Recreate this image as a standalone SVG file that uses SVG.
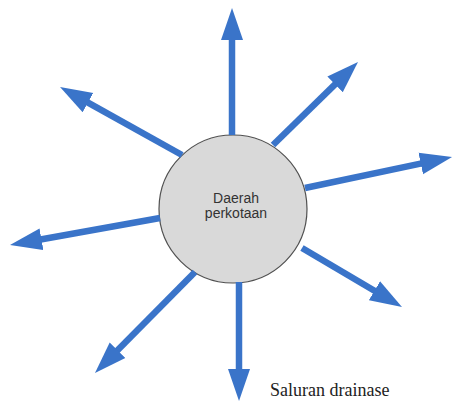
<svg xmlns="http://www.w3.org/2000/svg" width="454" height="403" viewBox="0 0 454 403">
<style>
.arrow{stroke:#3a74c9;stroke-width:6.5;fill:none;marker-end:url(#ah)}
.city{fill:#d9d9d9;stroke:#505050;stroke-width:1.2}
.lbl{font-family:"Liberation Sans",Arial,sans-serif;font-size:14px;fill:#333;text-anchor:middle}
.cap{font-family:"Liberation Serif","Times New Roman",serif;font-size:18px;fill:#222}
</style>
<defs>
<marker id="ah" markerUnits="userSpaceOnUse" markerWidth="34" markerHeight="24" viewBox="0 -12 34 24" refX="1" refY="0" orient="auto">
<path d="M0,-11 L32,0 L0,11 z" fill="#3a74c9"/>
</marker>
</defs>
<rect width="454" height="403" fill="#fff"/>
<g id="daerah-perkotaan">
<circle class="city" cx="233" cy="209" r="74"/>
<text class="lbl" x="236" y="203">Daerah</text>
<text class="lbl" x="236" y="218">perkotaan</text>
</g>
<g id="connectors">
<line class="arrow" x1="232" y1="135" x2="232" y2="39"/>
<line class="arrow" x1="273" y1="145" x2="335.8" y2="83.7"/>
<line class="arrow" x1="305" y1="188" x2="421.7" y2="163.4"/>
<line class="arrow" x1="182" y1="155" x2="87.1" y2="102.1"/>
<line class="arrow" x1="160" y1="218" x2="40.5" y2="239.5"/>
<line class="arrow" x1="195" y1="272" x2="116.8" y2="351"/>
<line class="arrow" x1="239" y1="282" x2="239" y2="370"/>
<line class="arrow" x1="302" y1="248" x2="375.3" y2="291.3"/>
</g>
<g id="caption">
<text class="cap" x="270" y="396">Saluran drainase</text>
</g>
</svg>
